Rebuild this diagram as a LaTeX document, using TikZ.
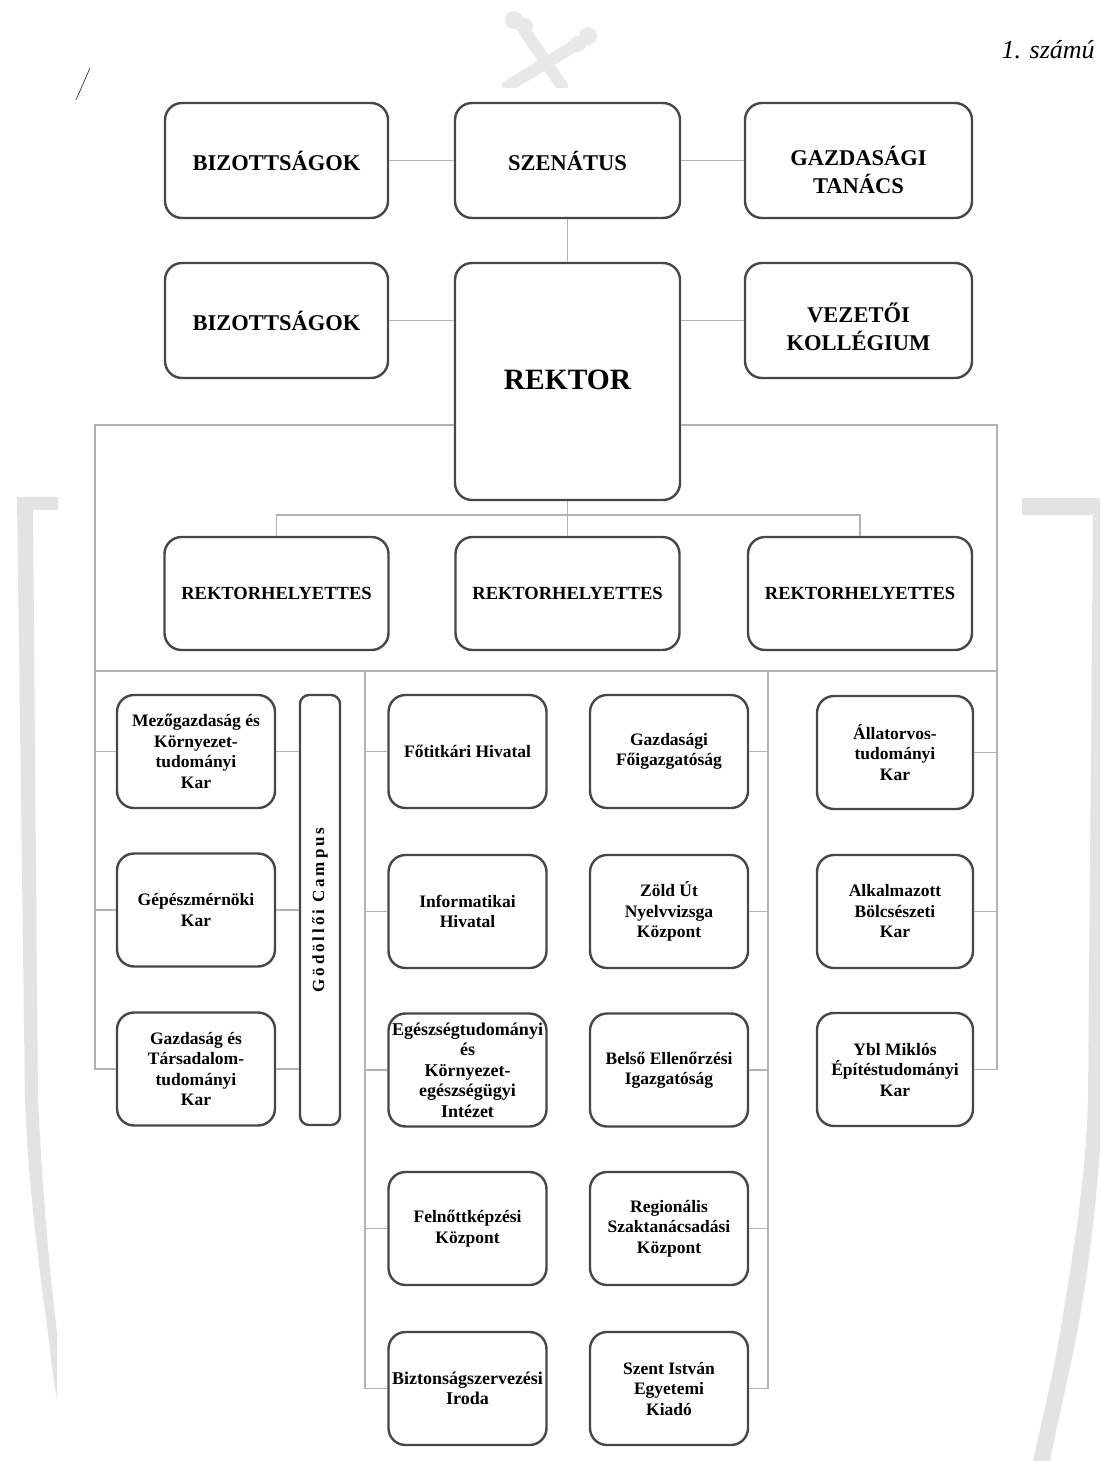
\documentclass[tikz,border=0pt]{standalone}
\usepackage{fontspec}
\setmainfont{Liberation Serif}
\begin{document}
\begin{tikzpicture}[x=1pt,y=-1pt,
 box/.style={draw=black!72, line width=2.4pt, rounded corners=17pt, fill=white, align=center,
   font=\bfseries\fontsize{17.5}{20.5}\selectfont, inner sep=2pt},
 big/.style={box, font=\bfseries\fontsize{22.5}{28}\selectfont},
 lbl/.style={align=center, font=\bfseries\fontsize{22.5}{28}\selectfont},
 rh/.style={box, font=\bfseries\fontsize{18.5}{22}\selectfont, minimum width=224pt, minimum height=113pt},
 sm/.style={box, minimum width=158pt, minimum height=113pt},
 conn/.style={draw=black!30, line width=1.4pt},
 wm/.style={fill=black!11, draw=none}]
\useasboundingbox (0,0) rectangle (1100,1461);
% watermarks
\begin{scope}[black!9]
\draw[line width=12pt, line cap=round] (520,24) -- (562,86);
\draw[line width=12pt, line cap=round] (584,40) -- (508,86);
\fill (514,20) circle (9pt);
\fill (525,26) circle (8pt);
\fill (588,36) circle (9pt);
\fill (578,44) circle (8pt);
\end{scope}
\fill[white] (480,88) rectangle (620,100);
\fill[wm] (17,497) -- (58,497) -- (58,510) -- (33,510) -- (38,1100) .. controls (44,1220) and (52,1290) .. (57,1333) -- (57,1400) .. controls (53,1380) and (50,1350) .. (48,1333) .. controls (38,1260) and (28,1180) .. (25,1100) -- cycle;
\fill[wm] (1022,498) -- (1100,498) -- (1100,1150) .. controls (1094,1230) and (1085,1290) .. (1077,1333) .. controls (1068,1380) and (1058,1420) .. (1050,1461) -- (1033,1461) .. controls (1042,1420) and (1052,1380) .. (1060,1333) .. controls (1072,1260) and (1086,1180) .. (1088,1100) -- (1093,515) -- (1022,515) -- cycle;
% header
\node[font=\itshape\fontsize{26}{30}\selectfont, anchor=west] (hdr) at (998,50) {1. számú};
\draw[black!80, line width=0.7pt] (90,68) -- (76,100);
% top rows
\node[big, minimum width=223pt, minimum height=115pt] (bz1) at (276.5,160.5) {BIZOTTSÁGOK};
\node[big, minimum width=225pt, minimum height=115pt] (szen) at (567.5,160.5) {SZENÁTUS};
\node[box, minimum width=227pt, minimum height=115pt] (gt) at (858.5,160.5) {};
\node[lbl] (gttxt) at (858.5,170) {GAZDASÁGI\\TANÁCS};
\node[big, minimum width=223pt, minimum height=115pt] (bz2) at (276.5,320.5) {BIZOTTSÁGOK};
\node[box, font=\bfseries\fontsize{29.5}{34}\selectfont, minimum width=225pt, minimum height=237pt] (rektor) at (567.5,381.5) {\raisebox{4pt}{REKTOR}};
\node[box, minimum width=227pt, minimum height=115pt] (vk) at (858.5,320.5) {};
\node[lbl] (vktxt) at (858.5,327) {VEZETŐI\\KOLLÉGIUM};
% rektorhelyettesek
\node[rh] (rh1) at (276.5,593.5) {REKTORHELYETTES};
\node[rh] (rh2) at (567.5,593.5) {REKTORHELYETTES};
\node[rh] (rh3) at (860,593.5) {REKTORHELYETTES};
% left column
\node[sm] (mg) at (196,751.5) {Mezőgazdaság és\\Környezet-\\tudományi\\Kar};
\node[sm] (gep) at (196,910) {Gépészmérnöki\\Kar};
\node[sm] (gtk) at (196,1069) {Gazdaság és\\Társadalom-\\tudományi\\Kar};
\node[draw=black!72, line width=2.4pt, rounded corners=9pt, fill=white, minimum width=40pt, minimum height=430pt] (camp) at (320,910) {};
\node[rotate=90, font=\bfseries\fontsize{17}{20}\selectfont\addfontfeature{LetterSpace=17}] (camptxt) at (camp.center) {Gödöllői Campus};
% middle columns
\node[sm] (fot) at (467.5,751.5) {Főtitkári Hivatal};
\node[sm] (inf) at (467.5,911.5) {Informatikai\\Hivatal};
\node[sm, font=\bfseries\fontsize{18}{20.5}\selectfont] (egt) at (467.5,1070) {Egészségtudományi\\és\\Környezet-\\egészségügyi\\Intézet};
\node[sm] (fk) at (467.5,1228.5) {Felnőttképzési\\Központ};
\node[sm, font=\bfseries\fontsize{18}{20.5}\selectfont] (biz) at (467.5,1388.5) {Biztonságszervezési\\Iroda};
\node[sm] (gfo) at (669,751.5) {Gazdasági\\Főigazgatóság};
\node[sm] (zu) at (669,911.5) {Zöld Út\\Nyelvvizsga\\Központ};
\node[sm] (bei) at (669,1070) {Belső Ellenőrzési\\Igazgatóság};
\node[sm] (rsz) at (669,1228.5) {Regionális\\Szaktanácsadási\\Központ};
\node[sm] (szi) at (669,1388.5) {Szent István\\Egyetemi\\Kiadó};
% right column
\node[sm, minimum width=156pt] (all) at (895,752.5) {Állatorvos-\\tudományi\\Kar};
\node[sm, minimum width=156pt] (abk) at (895,911.5) {Alkalmazott\\Bölcsészeti\\Kar};
\node[sm, minimum width=156pt] (ybl) at (895,1069.5) {Ybl Miklós\\Építéstudományi\\Kar};
% coordinates
\coordinate (fl) at (95,425);
\coordinate (fr) at (997,425);
\coordinate (hb) at (567.5,515);
\coordinate (hl) at (95,671);
\coordinate (hr) at (997,671);
\coordinate (ml) at (365,671);
\coordinate (mr) at (768,671);
% connectors
\draw[conn] (bz1) -- (szen);
\draw[conn] (szen) -- (gt);
\draw[conn] (szen) -- (rektor);
\draw[conn] (bz2.east) -- (bz2.east -| rektor.west);
\draw[conn] (vk.west) -- (vk.west -| rektor.east);
\draw[conn] (rektor.west |- fl) -- (fl) -- (fl |- gtk.west) -- (gtk.west);
\draw[conn] (rektor.east |- fr) -- (fr) -- (fr |- ybl.east) -- (ybl.east);
\draw[conn] (rektor.south) -- (hb);
\draw[conn] (rh1.north) -- (rh1.north |- hb) -- (rh3.north |- hb) -- (rh3.north);
\draw[conn] (hb) -- (rh2.north);
\draw[conn] (hl) -- (hr);
\draw[conn] (ml) -- (ml |- biz.west) -- (biz.west);
\draw[conn] (mr) -- (mr |- szi.east) -- (szi.east);
\foreach \n in {mg,gep} \draw[conn] (fl |- \n.west) -- (\n.west);
\foreach \n in {mg,gep,gtk} \draw[conn] (\n.east) -- (\n.east -| camp.west);
\foreach \n in {fot,inf,egt,fk} \draw[conn] (ml |- \n.west) -- (\n.west);
\foreach \n in {gfo,zu,bei,rsz} \draw[conn] (\n.east) -- (mr |- \n.east);
\foreach \n in {all,abk} \draw[conn] (\n.east) -- (fr |- \n.east);
\end{tikzpicture}
\end{document}
